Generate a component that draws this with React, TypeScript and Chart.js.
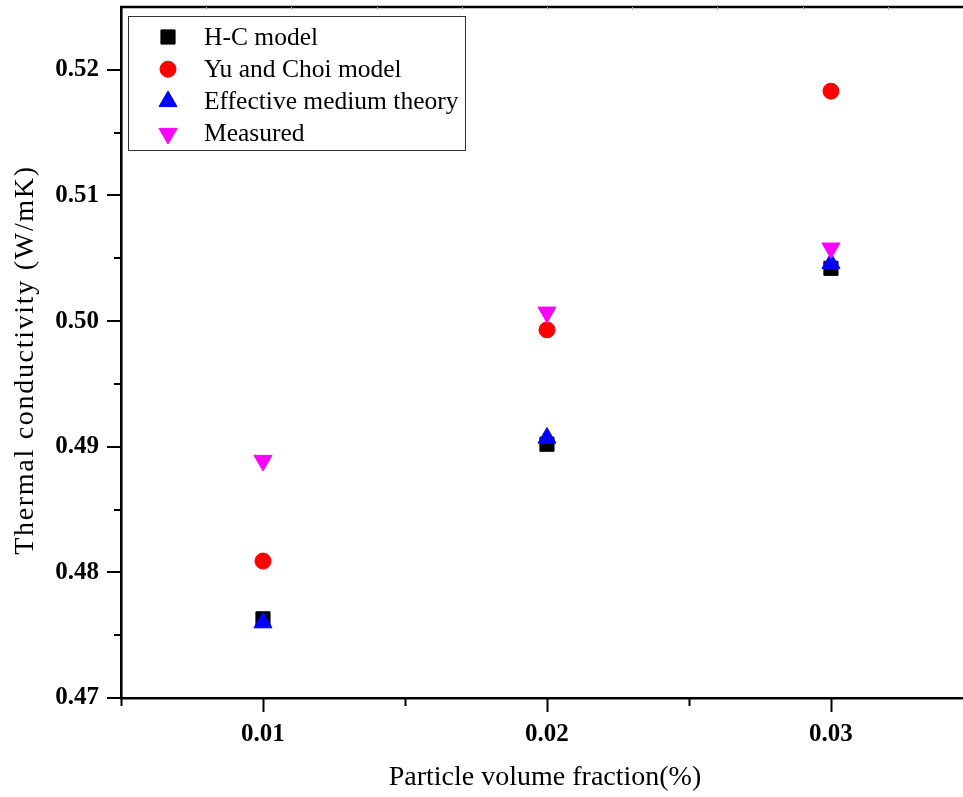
import React, { useEffect, useRef } from "react";
import { Chart, registerables } from "chart.js";
import { drawPoint } from "chart.js/helpers";

Chart.register(...registerables);

// Particle volume fraction (%)
const FRACTIONS = [0.01, 0.02, 0.03];

// Thermal conductivity (W/mK) for each model and the measurement
const HC_MODEL = [0.4763, 0.4902, 0.5042];
const YU_CHOI_MODEL = [0.4809, 0.4993, 0.5183];
const EFFECTIVE_MEDIUM = [0.476, 0.4907, 0.5046];
const MEASURED = [0.4889, 0.5007, 0.5058];

// Axis ticks
const X_MAJOR = [0.01, 0.02, 0.03];
const X_MINOR = [0.005, 0.015, 0.025];
const Y_MAJOR = [0.47, 0.48, 0.49, 0.5, 0.51, 0.52];
const Y_MINOR = [0.475, 0.485, 0.495, 0.505, 0.515];
const TOP_MINOR = [0.008, 0.011, 0.014, 0.017, 0.02, 0.023, 0.026, 0.029, 0.032];

const X_TITLE = "Particle volume fraction(%)";
const Y_TITLE = "Thermal conductivity (W/mK)";

const SERIF = '"Liberation Serif", "Times New Roman", serif';

const SERIES = [
  { label: "H-C model", values: HC_MODEL, color: "#000000", pointStyle: "rect", radius: 10, rotation: 0 },
  { label: "Yu and Choi model", values: YU_CHOI_MODEL, color: "#ff0000", pointStyle: "circle", radius: 8, rotation: 0 },
  { label: "Effective medium theory", values: EFFECTIVE_MEDIUM, color: "#0000ff", pointStyle: "triangle", radius: 10.4, rotation: 0 },
  { label: "Measured", values: MEASURED, color: "#ff00ff", pointStyle: "triangle", radius: 10.4, rotation: 180 },
];

// Outward major/minor tick marks, a top frame line, axis titles and a boxed legend
const frameAndLegend = {
  id: "frameAndLegend",
  afterDraw(chart: any) {
    const { ctx, chartArea } = chart;
    const xs = chart.scales.x;
    const ys = chart.scales.y;
    ctx.save();
    ctx.strokeStyle = "#000";
    ctx.lineWidth = 2;
    ctx.lineCap = "butt";

    const bottom = chartArea.bottom;
    const left = chartArea.left;
    X_MAJOR.forEach((v) => {
      const px = Math.round(xs.getPixelForValue(v)) + 0.5;
      ctx.beginPath();
      ctx.moveTo(px, bottom);
      ctx.lineTo(px, bottom + 14);
      ctx.stroke();
    });
    X_MINOR.forEach((v) => {
      const px = Math.round(xs.getPixelForValue(v)) + 0.5;
      ctx.beginPath();
      ctx.moveTo(px, bottom);
      ctx.lineTo(px, bottom + 8);
      ctx.stroke();
    });
    Y_MAJOR.forEach((v) => {
      const py = Math.round(ys.getPixelForValue(v));
      ctx.beginPath();
      ctx.moveTo(left, py);
      ctx.lineTo(left - 14, py);
      ctx.stroke();
    });
    Y_MINOR.forEach((v) => {
      const py = Math.round(ys.getPixelForValue(v));
      ctx.beginPath();
      ctx.moveTo(left, py);
      ctx.lineTo(left - 7, py);
      ctx.stroke();
    });

    // top frame line
    ctx.lineWidth = 2.6;
    ctx.beginPath();
    ctx.moveTo(left - 1, chartArea.top);
    ctx.lineTo(chart.width, chartArea.top);
    ctx.stroke();

    // faint top ticks
    ctx.strokeStyle = "#b0b0b0";
    ctx.lineWidth = 1;
    TOP_MINOR.forEach((v) => {
      const px = Math.round(xs.getPixelForValue(v)) + 0.5;
      ctx.beginPath();
      ctx.moveTo(px, chartArea.top);
      ctx.lineTo(px, chartArea.top + 3);
      ctx.stroke();
    });

    // axis titles
    ctx.fillStyle = "#000";
    ctx.textAlign = "center";
    ctx.textBaseline = "middle";
    ctx.font = `28px ${SERIF}`;
    ctx.fillText(X_TITLE, 545, 778);

    ctx.save();
    ctx.translate(26, 360);
    ctx.rotate(-Math.PI / 2);
    (ctx as any).letterSpacing = "1.7px";
    ctx.fillText(Y_TITLE, 0, 0);
    ctx.restore();

    // legend
    const boxX = 128.5;
    const boxY = 16.5;
    const boxW = 337;
    const boxH = 134;
    ctx.fillStyle = "#ffffff";
    ctx.fillRect(boxX, boxY, boxW, boxH);
    ctx.strokeStyle = "#333";
    ctx.lineWidth = 1;
    ctx.strokeRect(boxX, boxY, boxW, boxH);

    ctx.font = `25.5px ${SERIF}`;
    ctx.textBaseline = "middle";
    ctx.textAlign = "left";
    SERIES.forEach((s, i) => {
      const cy = 37 + i * 32.2;
      ctx.fillStyle = s.color;
      ctx.strokeStyle = s.color;
      ctx.lineWidth = 1;
      drawPoint(ctx, { pointStyle: s.pointStyle, rotation: s.rotation, radius: s.radius, borderWidth: 1 } as any, 168, cy);
      ctx.fillStyle = "#000";
      ctx.fillText(s.label, 204, cy + 1);
    });
    ctx.restore();
  },
};

const zeroPadding = (scale: any) => {
  scale.paddingTop = 0;
  scale.paddingBottom = 0;
  scale.paddingLeft = 0;
  scale.paddingRight = 0;
};

export default function App() {
  const canvasRef = useRef<HTMLCanvasElement | null>(null);

  useEffect(() => {
    document.body.style.margin = "0";
    const canvas = canvasRef.current;
    if (!canvas) return;

    const datasets = SERIES.map((s, i) => ({
      label: s.label,
      data: FRACTIONS.map((x, j) => ({ x, y: s.values[j] })),
      backgroundColor: s.color,
      borderColor: s.color,
      borderWidth: 1,
      pointStyle: s.pointStyle,
      pointRadius: s.radius,
      pointHoverRadius: s.radius,
      rotation: s.rotation,
      showLine: false,
      order: SERIES.length - i,
    }));

    const chart = new Chart(canvas, {
      type: "scatter",
      data: { datasets },
      options: {
        responsive: false,
        animation: false,
        devicePixelRatio: 1,
        layout: { autoPadding: false, padding: { top: 7, right: 0, left: 0, bottom: 0 } },
        plugins: {
          legend: { display: false },
          tooltip: { enabled: false },
        },
        scales: {
          x: {
            type: "linear",
            min: 0.005,
            max: 0.03465,
            afterBuildTicks: (scale: any) => {
              scale.ticks = X_MAJOR.map((value) => ({ value }));
            },
            afterFit: (scale: any) => {
              scale.height = 99;
              zeroPadding(scale);
            },
            grid: { display: false, drawTicks: false },
            border: { display: true, color: "#000", width: 2.6 },
            ticks: {
              padding: 22,
              color: "#000",
              font: { family: SERIF, size: 25, weight: "bold" },
              callback: (v: any) => Number(v).toFixed(2),
              maxRotation: 0,
            },
          },
          y: {
            type: "linear",
            min: 0.47,
            max: 0.525,
            afterBuildTicks: (scale: any) => {
              scale.ticks = Y_MAJOR.map((value) => ({ value }));
            },
            afterFit: (scale: any) => {
              scale.width = 121;
              zeroPadding(scale);
            },
            grid: { display: false, drawTicks: false },
            border: { display: true, color: "#000", width: 2.6 },
            ticks: {
              padding: 22,
              color: "#000",
              font: { family: SERIF, size: 25, weight: "bold" },
              callback: (v: any) => Number(v).toFixed(2),
            },
          },
        },
      },
      plugins: [frameAndLegend],
    } as any);

    return () => {
      chart.destroy();
    };
  }, []);

  return (
    <div style={{ width: 963, height: 797, overflow: "hidden", background: "#fff" }}>
      <canvas ref={canvasRef} width={963} height={797} style={{ display: "block" }} />
    </div>
  );
}
